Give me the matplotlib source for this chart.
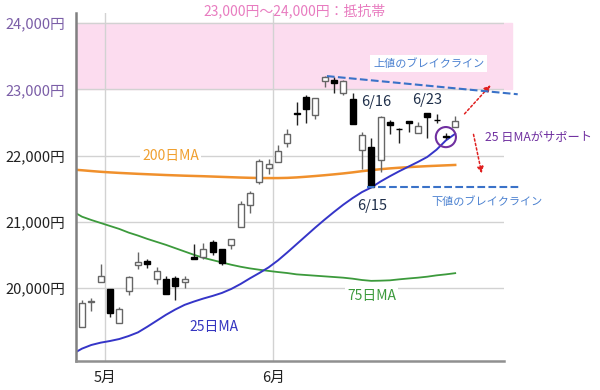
import matplotlib.pyplot as plt
import numpy as np

plt.rcParams['font.family'] = ['Noto Sans CJK JP', 'DejaVu Sans']

# Nikkei daily candles, Apr 27 - Jun 26
dates = ['4/27', '4/28', '4/30', '5/1', '5/7', '5/8', '5/11', '5/12', '5/13', '5/14', '5/15',
         '5/18', '5/19', '5/20', '5/21', '5/22', '5/25', '5/26', '5/27', '5/28', '5/29',
         '6/1', '6/2', '6/3', '6/4', '6/5', '6/8', '6/9', '6/10', '6/11', '6/12',
         '6/15', '6/16', '6/17', '6/18', '6/19', '6/22', '6/23', '6/24', '6/25', '6/26']
opens = [19420, 19795, 20100, 19990, 19475, 19965, 20345, 20415, 20140, 20140, 20150,
         20090, 20475, 20470, 20700, 20590, 20655, 20930, 21250, 21610, 21810,
         21910, 22190, 22650, 22890, 22615, 23130, 23140, 22940, 22850, 22090,
         22135, 21935, 22512, 22405, 22523, 22346, 22640, 22540, 22295, 22437]
highs = [19820, 19850, 20370, 19995, 19720, 20180, 20540, 20440, 20320, 20180, 20190,
         20180, 20670, 20690, 20730, 20600, 20745, 21320, 21470, 21945, 21950,
         22160, 22400, 22815, 22915, 22870, 23200, 23185, 23140, 22940, 22350,
         22262, 22595, 22540, 22410, 22530, 22512, 22650, 22630, 22345, 22598]
lows = [19410, 19650, 20095, 19570, 19470, 19900, 20290, 20300, 20060, 19910, 19830,
        20000, 20435, 20440, 20500, 20350, 20600, 20925, 21140, 21580, 21720,
        21905, 22125, 22460, 22497, 22560, 23040, 22940, 22915, 22475, 21795,
        21530, 21758, 22327, 22185, 22360, 22340, 22262, 22500, 22250, 22437]
closes = [19785, 19805, 20190, 19620, 19685, 20175, 20390, 20365, 20265, 19915, 20040,
          20135, 20440, 20595, 20552, 20388, 20740, 21270, 21430, 21925, 21875,
          22075, 22327, 22625, 22700, 22865, 23190, 23100, 23130, 22478, 22312,
          21532, 22588, 22462, 22395, 22488, 22447, 22585, 22535, 22280, 22523]

# moving averages, starting one session earlier (4/24)
ma25 = [19010, 19090, 19145, 19180, 19205, 19235, 19280, 19335, 19420, 19510, 19600, 19680,
        19750, 19800, 19845, 19885, 19930, 19990, 20065, 20150, 20230, 20315,
        20420, 20540, 20665, 20790, 20915, 21035, 21150, 21260, 21360, 21450,
        21520, 21610, 21690, 21765, 21835, 21905, 21980, 22090, 22230, 22330]
ma75 = [21160, 21080, 21030, 20985, 20940, 20895, 20840, 20795, 20745, 20700, 20655, 20605,
        20555, 20505, 20460, 20425, 20390, 20355, 20325, 20300, 20280, 20262,
        20245, 20230, 20210, 20200, 20190, 20180, 20170, 20160, 20145, 20125,
        20112, 20115, 20120, 20135, 20148, 20160, 20175, 20195, 20210, 20228]
ma200 = [21790, 21780, 21768, 21757, 21748, 21740, 21733, 21726, 21720, 21714, 21708, 21703,
         21698, 21694, 21690, 21685, 21680, 21675, 21670, 21666, 21663, 21662,
         21662, 21665, 21672, 21682, 21693, 21705, 21718, 21732, 21748, 21766,
         21782, 21796, 21808, 21818, 21827, 21835, 21842, 21848, 21854, 21860]

yticks = [20000, 21000, 22000, 23000, 24000]
band = (23000, 24000)

x = np.arange(len(dates))
ma_x = np.arange(len(ma25)) - 1

fig = plt.figure(figsize=(6, 3.9), dpi=100)
ax = fig.add_axes([76 / 600, 1 - 360.7 / 390, 428 / 600, 348 / 390])
ax.set_xlim(-0.64, 45.23)
ax.set_ylim(18908, 24156)

# resistance zone
span = ax.axhspan(band[0], band[1], xmin=0, xmax=1.019, color='#fcdcef', zorder=0)
span.set_clip_on(False)

# grid
ax.set_axisbelow(True)
ax.set_yticks(yticks)
ax.set_yticklabels([f'{v:,}円' for v in yticks])
month_pos = [i - 0.5 for i in range(1, len(dates)) if dates[i].split('/')[0] != dates[i - 1].split('/')[0]]
ax.set_xticks(month_pos)
ax.set_xticklabels([dates[int(p + 0.5)].split('/')[0] + '月' for p in month_pos])
ax.grid(True, color='#d2d2d2', lw=1)
ax.tick_params(length=0, labelsize=10.5, colors='#222222')
ax.tick_params(axis='y', pad=8)
ax.tick_params(axis='x', pad=7)
for v, lab in zip(yticks, ax.get_yticklabels()):
    lab.set_color('#7b5ea7' if v >= band[0] else '#222222')
for s in ['top', 'right']:
    ax.spines[s].set_visible(False)
ax.spines['left'].set_color('#808080')
ax.spines['left'].set_linewidth(1.8)
ax.spines['bottom'].set_color('#909090')
ax.spines['bottom'].set_linewidth(1.8)

# moving averages
ax.plot(ma_x, ma200, color='#f0902c', lw=1.8, zorder=2)
ax.plot(ma_x, ma75, color='#3c9a3c', lw=1.3, zorder=2)
ax.plot(ma_x, ma25, color='#3535c8', lw=1.4, zorder=2)

# candles
o = np.array(opens); c = np.array(closes)
up = c >= o
body_bot = np.minimum(o, c)
body_h = np.maximum(np.abs(c - o), 8)
ax.vlines(x[up], np.array(lows)[up], np.array(highs)[up], color='#666666', lw=1, zorder=3)
ax.vlines(x[~up], np.array(lows)[~up], np.array(highs)[~up], color='#222222', lw=1, zorder=3)
ax.bar(x[up], body_h[up], 0.65, bottom=body_bot[up], facecolor='white', edgecolor='#666666', lw=1, zorder=4)
ax.bar(x[~up], body_h[~up], 0.65, bottom=body_bot[~up], facecolor='black', edgecolor='black', lw=1, zorder=4)

# break lines
i_top = dates.index('6/8')
i_low = dates.index('6/15')
ax.plot([i_top + 0.25, 46.7], [highs[i_top], 22926], ls='--', color='#3a72c8', lw=1.5, zorder=5, clip_on=False)
ax.plot([i_low - 0.4, 46.9], [lows[i_low], lows[i_low]], ls='--', color='#3a72c8', lw=1.5, zorder=5, clip_on=False)

# 25MA support circle
i_c = dates.index('6/25')
ax.scatter([i_c], [closes[i_c]], s=210, facecolors='none', edgecolors='#7030a0', lw=1.5, zorder=6)

# scenario arrows
ax.annotate('', xy=(44.0, 23094), xytext=(40.8, 22600),
            arrowprops=dict(arrowstyle='-|>', ls=(0, (1.5, 1.5)), color='#e02020', lw=1.1,
                            mutation_scale=9), annotation_clip=False)
ax.annotate('', xy=(42.9, 21693), xytext=(41.9, 22362),
            arrowprops=dict(arrowstyle='-|>', ls=(0, (1.5, 1.5)), color='#e02020', lw=1.1,
                            mutation_scale=9), annotation_clip=False)

# labels
white_box = dict(facecolor='white', edgecolor='none', pad=1.5)
ax.text(9.5, 21995, '200日MA', color='#f0a030', fontsize=10, ha='center', va='center', bbox=white_box, zorder=3)
ax.text(31.05, 19884, '75日MA', color='#3c9a3c', fontsize=10, ha='center', va='center', bbox=white_box, zorder=3)
ax.text(14.2, 19416, '25日MA', color='#3535c0', fontsize=10, ha='center', va='center', zorder=3)
ax.text(31.57, 22802, '6/16', color='#1f2f4a', fontsize=10.5, ha='center', va='center', zorder=6)
ax.text(37.0, 22840, '6/23', color='#1f2f4a', fontsize=10.5, ha='center', va='center', zorder=6)
ax.text(31.15, 21241, '6/15', color='#1f2f4a', fontsize=10.5, ha='center', va='center', zorder=6)
ax.text(37.16, 23390, '上値のブレイクライン', color='#4a80d0', fontsize=8, ha='center', va='center',
        bbox=dict(facecolor='white', edgecolor='none', pad=2), zorder=6)
ax.text(43.4, 21301, '下値のブレイクライン', color='#4a80d0', fontsize=8, ha='center', va='center', zorder=6)
ax.text(48.95, 22274, '25 日MAがサポート', color='#7030a0', fontsize=8.8, ha='center', va='center', zorder=6)
fig.text(0.49, 0.972, '23,000円～24,000円：抵抗帯', color='#e87cc0', fontsize=10, ha='center', va='center')

fig.savefig('out.png', dpi=100)
